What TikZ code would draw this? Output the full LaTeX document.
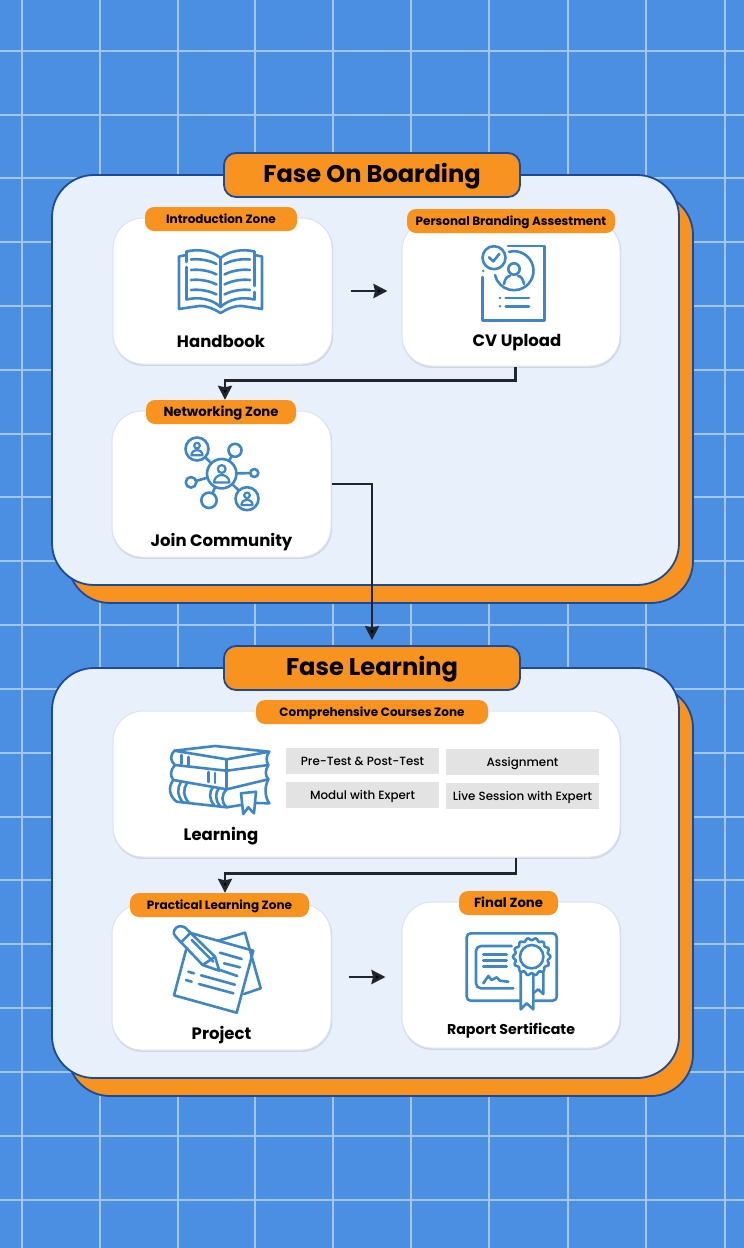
\documentclass[tikz,border=0pt]{standalone}
\usepackage{fontspec}
\setmainfont{Poppins}
\newfontfamily\fontmed{Poppins Medium}
\usetikzlibrary{arrows.meta,calc}
\definecolor{bgblue}{HTML}{4B8FE2}
\definecolor{gridc}{HTML}{A3C5F1}
\definecolor{panelc}{HTML}{E8F0FB}
\definecolor{orangec}{HTML}{F7931E}
\definecolor{edgec}{HTML}{1B4A9A}
\definecolor{iconc}{HTML}{3F86C6}
\definecolor{greyc}{HTML}{E3E3E3}
\definecolor{linec}{HTML}{20252E}
\definecolor{shadc}{HTML}{CFD6E2}
\definecolor{shadl}{HTML}{DCE3EE}
\tikzset{
 panelbox/.style={draw=edgec,line width=1.8pt,rounded corners=42pt,fill=panelc},
 backbox/.style={draw=edgec,line width=1.8pt,rounded corners=42pt,fill=orangec},
 titlebox/.style={draw=edgec,line width=1.8pt,rounded corners=12pt,fill=orangec,minimum width=296pt,minimum height=44pt,inner sep=0pt,font=\bfseries\fontsize{24.1}{30}\selectfont,text=black,text height=18pt,text depth=4pt},
 cardbox/.style={preaction={draw=shadc,line width=1.4pt,transform canvas={yshift=-1.2pt,xshift=.5pt}},draw=shadl,line width=1pt,rounded corners=30pt,fill=white,inner sep=0pt},
 zonebox/.style={fill=orangec,rounded corners=9pt,minimum height=24pt,inner sep=0pt,font=\bfseries\fontsize{12}{14}\selectfont,text=black,text height=10pt,text depth=2pt},
 zonebig/.style={zonebox,font=\bfseries\fontsize{13.2}{15}\selectfont},
 cardtext/.style={inner sep=0pt,font=\bfseries\fontsize{16.5}{20}\selectfont,text=black,text height=14pt,text depth=1pt},
 greybox/.style={fill=greyc,minimum width=153pt,minimum height=26pt,inner sep=0pt,font=\fontmed\fontsize{11.9}{14}\selectfont,text=black,text height=10pt,text depth=2pt},
 conn/.style={draw=linec,line width=2.8pt,-{Stealth[length=14pt,width=14pt,inset=1.5pt,fill=black]}},
 ic/.style={draw=iconc,line width=2.6pt,line cap=round,line join=round},
 gl/.style={draw=gridc,line width=2.4pt}
}
\newcommand{\person}[3]{% centre x, y, scale
 \draw[ic,line width=2.2pt] (#1,#2-4.7*#3) circle ({3.9*#3});
 \draw[ic,line width=2.2pt] (#1-7.7*#3,#2+8.7*#3) .. controls (#1-7.7*#3,#2+3.5*#3) and (#1-3*#3,#2+1.3*#3) .. (#1,#2+1.3*#3) .. controls (#1+3*#3,#2+1.3*#3) and (#1+7.7*#3,#2+3.5*#3) .. (#1+7.7*#3,#2+8.7*#3) -- cycle;
}
\begin{document}
\begin{tikzpicture}[x=1pt,y=-1pt]
\useasboundingbox (0,0) rectangle (744,1248);
\fill[bgblue] (0,0) rectangle (744,1248);
% grid
\foreach \gx in {22,100,178,255,333,411,489,568,646,725} \draw[gl] (\gx,0) -- (\gx,1248);
\foreach \gy in {51,115,178,242,306,370,434,497,561,625,689,753,817,880,944,1008,1072,1136,1200} \draw[gl] (0,\gy) -- (744,\gy);
% panels
\draw[backbox] (68,193) rectangle (693,603);
\draw[panelbox] (52,175) rectangle (679,585);
\draw[backbox] (68,686) rectangle (693,1096);
\draw[panelbox] (52,668) rectangle (679,1078);
\node[titlebox] (title1) at (372,175) {Fase On Boarding};
\node[titlebox] (title2) at (372,668) {Fase Learning};
% cards
\node[cardbox,minimum width=219pt,minimum height=146pt] (hand) at (222.5,291) {};
\node[cardbox,minimum width=218pt,minimum height=146pt] (cv) at (511,293) {};
\node[cardbox,minimum width=219pt,minimum height=146pt] (join) at (221.5,484) {};
\node[cardbox,minimum width=507pt,minimum height=146pt] (learn) at (366.5,784) {};
\node[cardbox,minimum width=219pt,minimum height=146pt] (proj) at (221.5,977) {};
\node[cardbox,minimum width=218pt,minimum height=146pt] (rap) at (511,975) {};
% zones
\node[zonebox,minimum width=152pt] (z1) at (221,219) {Introduction Zone};
\node[zonebox,minimum width=208pt] (z2) at (511,221) {Personal Branding Assestment};
\node[zonebig,minimum width=150pt] (z3) at (221,412) {Networking Zone};
\node[zonebox,minimum width=232pt] (z4) at (372,712) {Comprehensive Courses Zone};
\node[zonebox,minimum width=179pt] (z5) at (219.5,905) {Practical Learning Zone};
\node[zonebig,minimum width=99pt] (z6) at (508.5,903) {Final Zone};
% card texts
\node[cardtext] (t1) at (221,341) {Handbook};
\node[cardtext] (t2) at (517,340) {CV Upload};
\node[cardtext] (t3) at (221.5,540) {Join Community};
\node[cardtext] (t4) at (221,834) {Learning};
\node[cardtext] (t5) at (221.5,1033) {Project};
\node[cardtext,font=\bfseries\fontsize{14.2}{17}\selectfont] (t6) at (511,1027.5) {Raport Sertificate};
% grey boxes
\node[greybox] (g1) at (362.5,761) {Pre-Test \& Post-Test};
\node[greybox] (g2) at (522.5,762) {Assignment};
\node[greybox] (g3) at (362.5,795) {Modul with Expert};
\node[greybox] (g4) at (522.5,796) {Live Session with Expert};
% connectors
\draw[conn,shorten <=18pt,shorten >=14pt] (hand.east) -- (hand.east -| cv.west);
\draw[conn] ([xshift=4.5pt]cv.south) -- ++(0,14) -| ([xshift=4pt]z3.north);
\draw[conn,shorten >=5pt] (join.east) -| (title2.north);
\draw[conn] ([xshift=149.5pt]learn.south) -- ++(0,16) -| ([xshift=5.5pt]z5.north);
\draw[conn,shorten <=17pt,shorten >=16pt] (proj.east) -- (proj.east -| rap.west);
% book icon
\draw[ic] (220.5,258) .. controls (212,251) and (199,248.5) .. (186.5,251.5) -- (186.5,262);
\draw[ic] (186.5,267) -- (186.5,299.5) .. controls (199,296.5) and (212,299) .. (220.5,307) .. controls (229,299) and (242,296.5) .. (254.5,299.5) -- (254.5,292);
\draw[ic] (254.5,286) -- (254.5,251.5) .. controls (242,248.5) and (229,251) .. (220.5,258) -- (220.5,307);
\draw[ic] (186.5,255) -- (179,256.5) -- (179,309) -- (199,306) .. controls (207,305.5) and (214,309) .. (220.5,313) .. controls (227,309) and (234,305.5) .. (242,306) -- (262,309) -- (262,256.5) -- (254.5,255);
\foreach \ly in {259.5,270,280,290} {
 \draw[ic] (191,\ly) .. controls (200,\ly-1) and (210,\ly+1) .. (216.5,\ly+4.5);
 \draw[ic] (224.5,\ly+4.5) .. controls (231,\ly+1) and (241,\ly-1) .. (250,\ly);
}
% cv icon
\draw[ic] (508,246) -- (544.3,246) -- (544.3,320.7) -- (482.7,320.7) -- (482.7,277);
\fill[iconc] (483.3,271) circle (1.4);
\draw[ic] (494,257.7) circle (11.5);
\draw[ic] (489,257.3) -- (493.3,261.3) -- (499.3,254);
\draw[ic] (514,270.7) ++(-105:19.5) arc (-105:167:19.5);
\draw[ic] (514,269) circle (5.7);
\draw[ic] (504,284) .. controls (505,279) and (507,276) .. (510,276);
\draw[ic] (518,276) .. controls (521,276) and (523,279) .. (524,284);
\fill[iconc] (500,298) circle (1.4) (500,306.3) circle (1.4);
\draw[ic] (505.7,298) -- (529,298) (505.7,306.3) -- (529,306.3);
% network icon
\foreach \nx/\ny in {197/449,235/450.3,254.3/473,191/482.3,209/500.3,247/498.7} \draw[ic] (221.7,473.7) -- (\nx,\ny);
\draw[ic,fill=white] (221.7,473.7) circle (14.7);
\draw[ic,fill=white] (197,449) circle (11.5);
\draw[ic,fill=white] (235,450.3) circle (6.5);
\draw[ic,fill=white] (254.3,473) circle (4);
\draw[ic,fill=white] (191,482.3) circle (5.3);
\draw[ic,fill=white] (209,500.3) circle (7.7);
\draw[ic,fill=white] (247,498.7) circle (11.5);
\person{221.7}{473.7}{1}
\person{197}{449}{.72}
\person{247}{498.7}{.72}
% books icon
\draw[ic] (174.3,750.7) -- (215,746) -- (269.3,751.7) -- (226.7,759.3) -- cycle;
\draw[ic] (174.3,750.7) .. controls (170,755) and (170,761) .. (175,765) -- (226.7,770.7) -- (268.3,765);
\draw[ic] (269.3,751.7) .. controls (266,756) and (266,761) .. (268.3,765);
\draw[ic] (226.7,759.3) -- (226.7,770.7) -- (226.7,789.3);
\draw[ic] (181.7,755) -- (181.7,764) (188.3,757) -- (188.3,766);
\draw[ic] (175,765) .. controls (170,771) and (170,775) .. (173.3,780) -- (226.7,789.3) -- (268.3,779.3);
\draw[ic] (268.3,765) .. controls (265,771) and (265,775) .. (268.3,779.3);
\draw[ic] (208.3,772) -- (208.3,782) (215,773) -- (215,783);
\draw[ic] (173.3,780) .. controls (168,787) and (169,796) .. (176.7,801.7) -- (226.7,807.3) -- (241,805);
\draw[ic] (256,803) -- (269.3,803.3);
\draw[ic] (268.3,779.3) .. controls (264,788) and (265,797) .. (269.3,803.3);
\draw[ic] (226.7,789.3) .. controls (221,795) and (221,802) .. (226.7,807.3);
\draw[ic] (181,782) .. controls (177,788) and (177,795) .. (183,802.5);
\draw[ic] (187,783) .. controls (183,789) and (183,796) .. (189,803);
\draw[ic] (213,787) .. controls (209,792) and (209,799) .. (214,805);
\draw[ic] (219,788) .. controls (215,793) and (215,800) .. (220,806);
\draw[ic,fill=white] (241,793.3) -- (256,791.7) -- (254,813.3) -- (248.3,807.3) -- (243.3,814) -- cycle;
% project icon
\draw[ic] (218.3,940.7) -- (245,932.7) -- (260.7,988.3) -- (244,994);
\draw[ic] (191.7,933.3) -- (253.3,950.7) -- (236.7,1012.7) -- (174,995.3) -- (186,950);
\draw[ic,fill=white] (185.3,927.7) .. controls (181,925) and (176,926) .. (174.5,930) .. controls (173,933) and (174,935) .. (176,937) -- (202.7,965) -- (219.3,970.7) -- (215,956.7) -- cycle;
\draw[ic] (190,933.3) -- (181.7,941.7) (191.7,940) -- (213.3,961.7) (215,956.7) -- (202.7,965);
\draw[ic] (220,952.7) -- (241.7,959) (224,963.3) -- (240,967.3) (220,970) -- (237.3,976) (201,975.3) -- (235,984.7) (199,984) -- (233.3,993.3) (188.3,971.7) -- (194,973.3) (186,980) -- (191.7,981.7);
% certificate icon
\draw[ic,rounded corners=4pt] (520,1000.7) -- (466.7,1000.7) -- (466.7,933.3) -- (556.7,933.3) -- (556.7,1000.7) -- (535,1000.7);
\draw[ic,rounded corners=5pt] (511.7,946) -- (476,946) -- (476,988.3) -- (513.3,988.3);
\draw[ic] (483.3,954.3) -- (506.7,954.3) (483.3,960.7) -- (506.7,960.7) (483.3,966.7) -- (506.7,966.7);
\draw[ic] (483.3,983.3) -- (488.3,976) -- (491.7,980) -- (496.7,977.3) -- (500,980.7) -- (508.3,981.7);
\draw[ic,fill=white] (520.7,972) -- (520.7,1009.3) -- (526.7,1003.3) -- (533.3,1009.3) -- (533.3,975);
\draw[ic,fill=white] (543.3,972) -- (543.3,994) -- (538.3,989.3) -- (533.3,993);
\draw[ic,fill=white] plot[domain=0:360,samples=181,smooth] ({531.7+(17.6+1.1*cos(14*\x))*cos(\x)},{956.7+(17.6+1.1*cos(14*\x))*sin(\x)});
\draw[ic] (531.7,956.7) circle (11.7);
\end{tikzpicture}
\end{document}
